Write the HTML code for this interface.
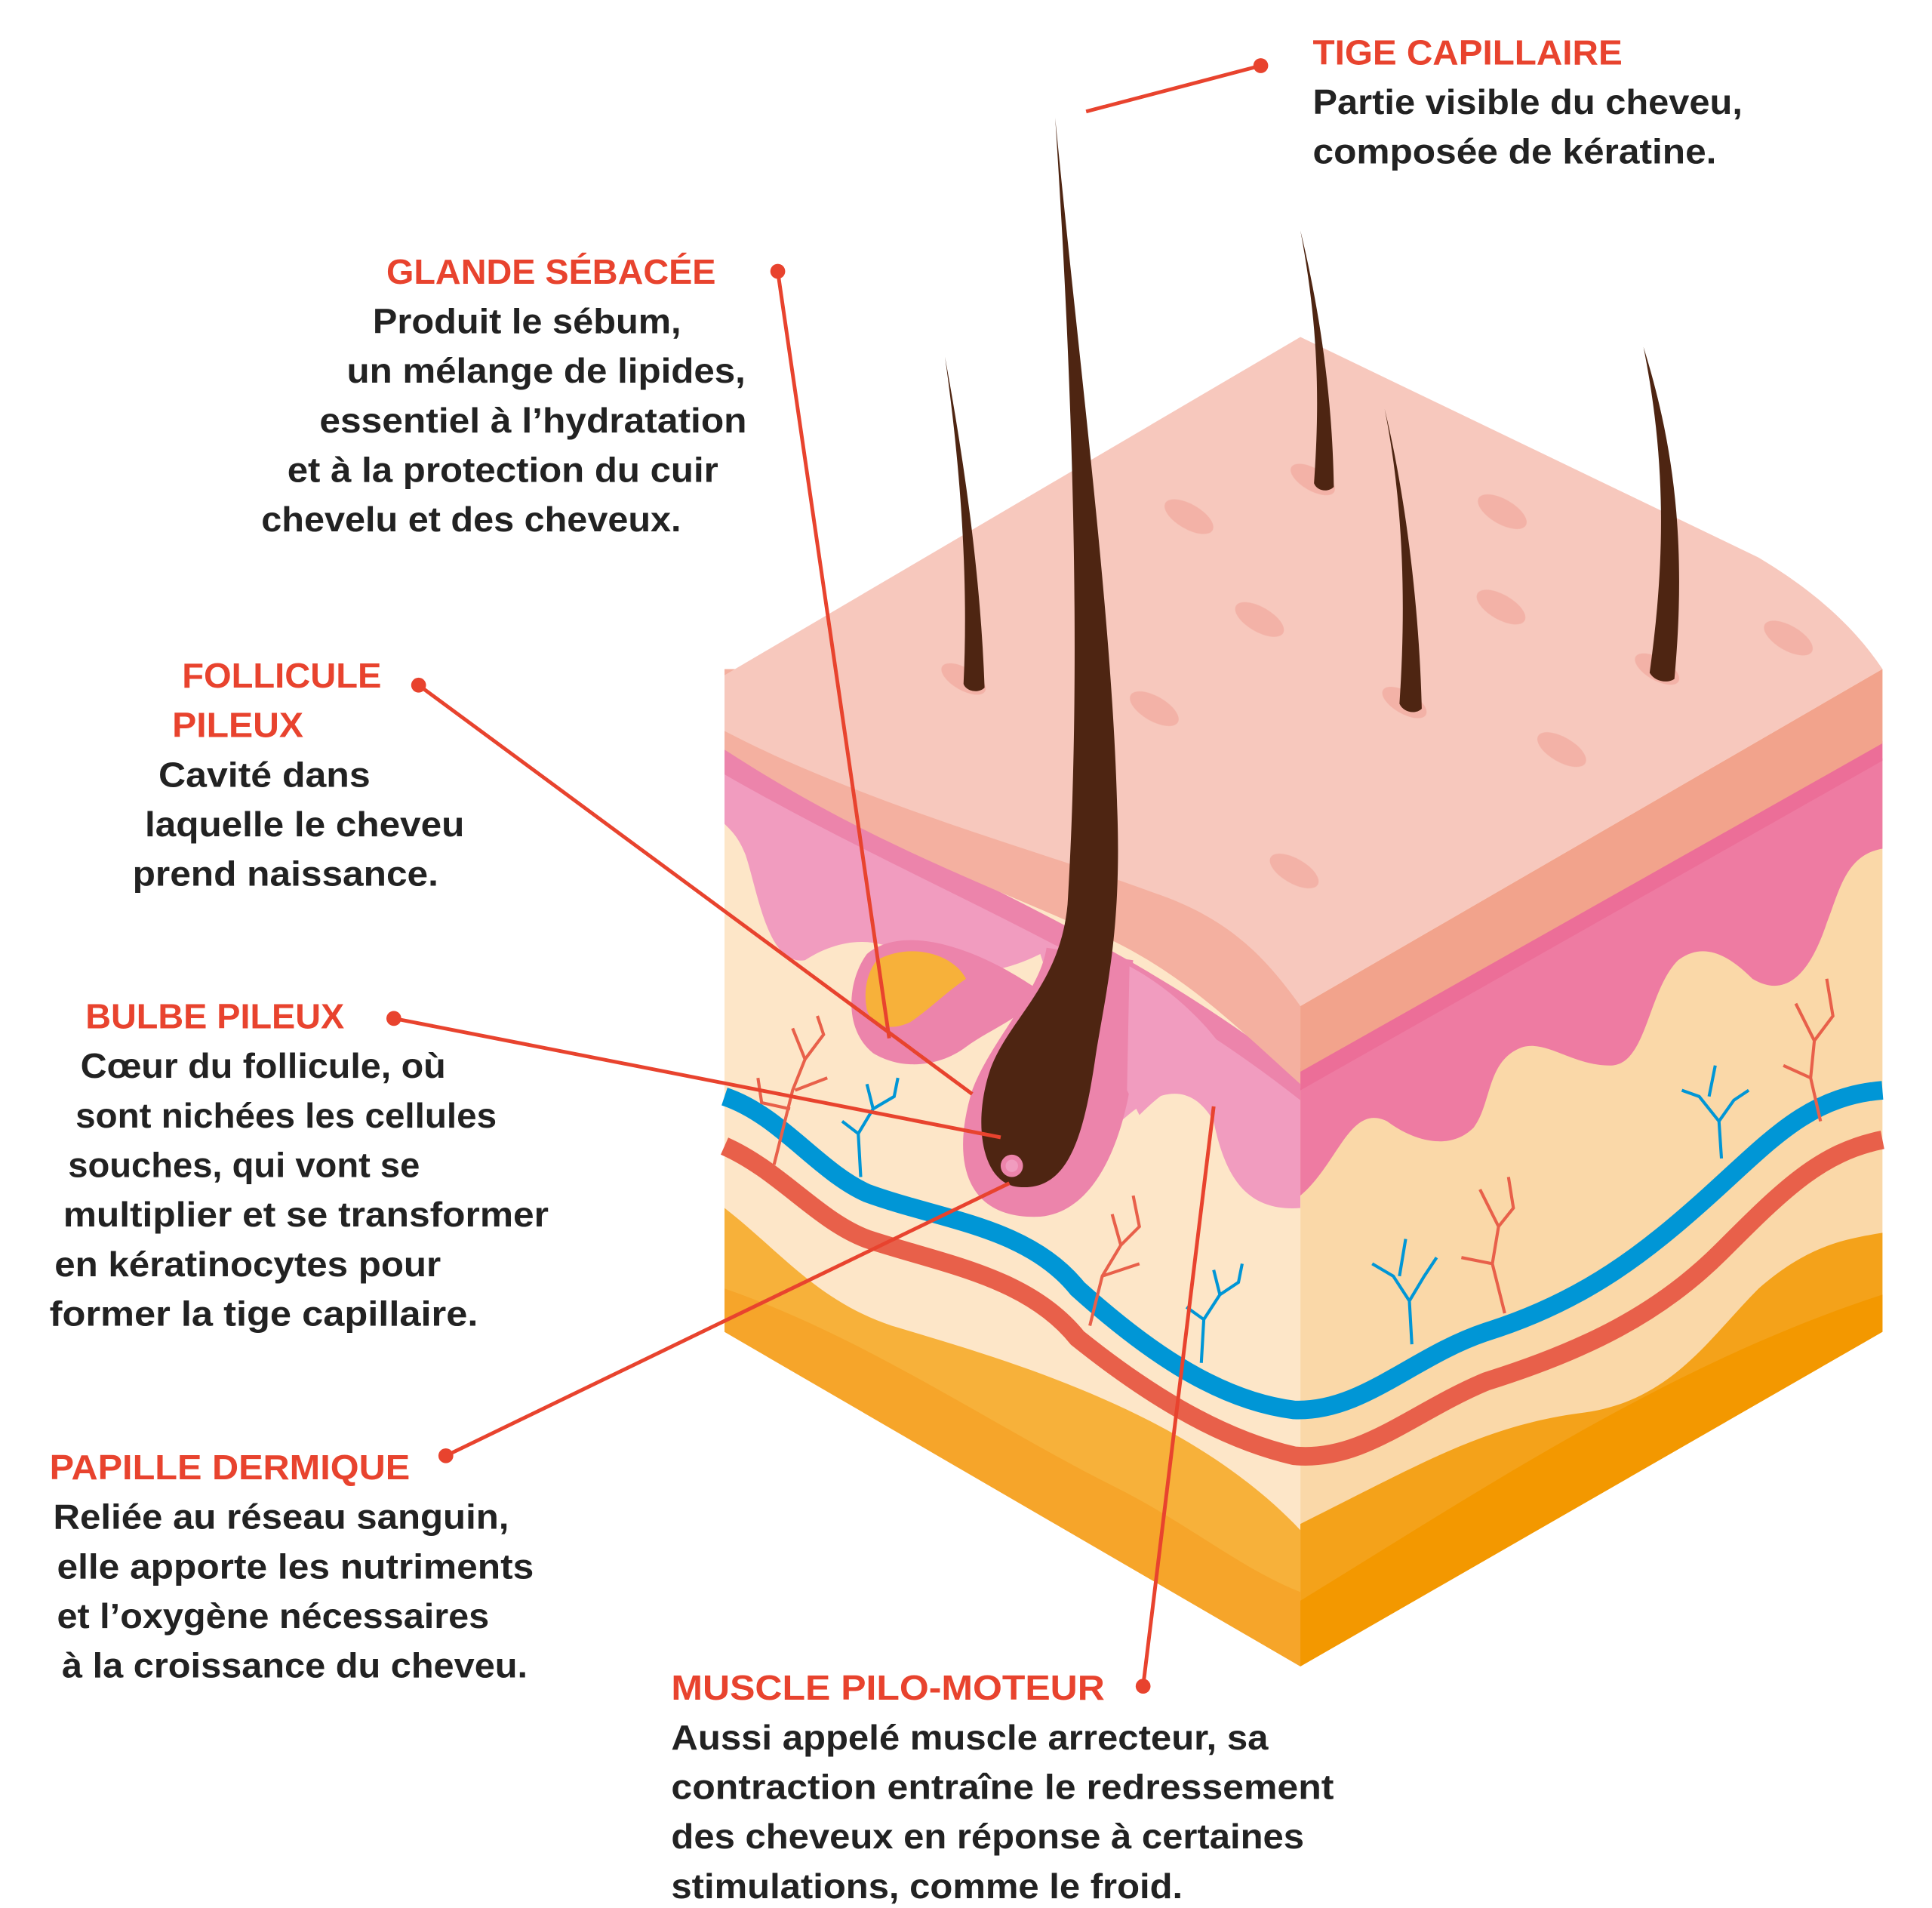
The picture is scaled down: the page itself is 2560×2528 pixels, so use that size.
<!DOCTYPE html>
<html><head><meta charset="utf-8"><style>
html,body{margin:0;padding:0;background:#fff;}
svg{display:block;}
text{font-family:"Liberation Sans",sans-serif;font-weight:bold;font-size:28px;}
.h{fill:#E8432E;}
.b{fill:#222;}
</style></head><body>
<svg width="2560" height="2528" viewBox="0 0 1560 1540" preserveAspectRatio="none" xmlns="http://www.w3.org/2000/svg">
<polygon points="585,545 1050,812 1050,1345 585,1075" fill="#FDE6C8"/>
<path d="M585,975 C630,1010 660,1050 720,1070 C820,1100 960,1140 1050,1235 L1050,1345 L585,1075 Z" fill="#F7B13A"/>
<path d="M585,1040 C700,1080 800,1150 900,1200 C960,1230 1000,1265 1050,1285 L1050,1345 L585,1075 Z" fill="#F6A52A"/>
<path d="M585,615 C750,710 900,760 1050,880 L1050,975 C1010,978 990,955 980,905 C960,870 930,880 900,910 L880,900 C860,850 850,800 840,770 C800,790 760,790 730,770 C700,752 670,762 650,775 C620,780 612,720 602,690 C596,675 590,670 585,665 Z" fill="#F19CBF"/>
<path d="M585,605 C750,700 900,750 1050,868 L1050,888 C900,770 750,720 585,625 Z" fill="#EC84AB"/>
<path d="M585,540 L1050,540 L1050,875 C1000,830 960,790 900,760 C800,715 700,680 585,605 Z" fill="#F4B0A0"/>
<polygon points="1050,812 1520,540 1520,1075 1050,1345" fill="#FAD8A8"/>
<path d="M1050,878 L1520,612 L1520,685 C1490,690 1485,720 1475,745 C1460,790 1440,805 1415,790 C1395,770 1375,760 1355,775 C1330,800 1330,860 1300,860 C1270,860 1250,840 1230,845 C1200,855 1205,890 1190,910 C1170,930 1140,920 1120,905 C1090,890 1080,940 1050,965 Z" fill="#EE7BA2"/>
<polygon points="1050,862 1520,598 1520,614 1050,880" fill="#EC6E98"/>
<polygon points="1050,812 1520,540 1520,600 1050,865" fill="#F2A38C"/>
<path d="M1050,1230 C1150,1180 1200,1150 1280,1140 C1350,1130 1380,1080 1420,1040 C1460,1005 1490,1000 1520,995 L1520,1075 L1050,1345 Z" fill="#F4A21A"/>
<path d="M1050,1292 C1200,1200 1350,1100 1520,1045 L1520,1075 L1050,1345 Z" fill="#F39800"/>
<path d="M585,545 L1050,272 L1420,450 C1470,480 1500,510 1520,540 L1050,812 C1020,770 990,740 930,720 C850,690 700,650 585,590 Z" fill="#F7C8BD"/>
<g fill="#F2ADA2" opacity="0.8">
<ellipse cx="960" cy="417" rx="22" ry="10" transform="rotate(30 960 417)"/>
<ellipse cx="1213" cy="413" rx="22" ry="10" transform="rotate(30 1213 413)"/>
<ellipse cx="1017" cy="500" rx="22" ry="10" transform="rotate(30 1017 500)"/>
<ellipse cx="1212" cy="490" rx="22" ry="10" transform="rotate(30 1212 490)"/>
<ellipse cx="932" cy="572" rx="22" ry="10" transform="rotate(30 932 572)"/>
<ellipse cx="1261" cy="605" rx="22" ry="10" transform="rotate(30 1261 605)"/>
<ellipse cx="1444" cy="515" rx="22" ry="10" transform="rotate(30 1444 515)"/>
<ellipse cx="1045" cy="703" rx="22" ry="10" transform="rotate(30 1045 703)"/>
<ellipse cx="778" cy="548" rx="20" ry="9" transform="rotate(30 778 548)"/>
<ellipse cx="1060" cy="387" rx="20" ry="9" transform="rotate(30 1060 387)"/>
<ellipse cx="1134" cy="567" rx="20" ry="9" transform="rotate(30 1134 567)"/>
<ellipse cx="1338" cy="540" rx="20" ry="9" transform="rotate(30 1338 540)"/>
</g>
<g fill="#4E2512">
<path d="M763,288 C780,380 792,470 795,555 C790,560 780,558 778,552 C782,470 776,380 763,288 Z"/>
<path d="M1050,186 C1068,260 1076,330 1077,393 C1072,398 1063,396 1061,390 C1066,320 1064,260 1050,186 Z"/>
<path d="M1118,330 C1135,400 1146,490 1148,572 C1143,577 1133,575 1130,568 C1136,480 1132,400 1118,330 Z"/>
<path d="M1327,280 C1352,360 1362,440 1352,548 C1346,552 1336,550 1332,543 C1345,450 1345,370 1327,280 Z"/>
</g>
<path d="M585,925 C630,945 660,985 700,1000 C760,1020 830,1030 870,1080 C920,1120 980,1160 1045,1175 C1100,1180 1140,1140 1200,1115 C1280,1090 1340,1060 1390,1010 C1440,960 1470,930 1520,920" fill="none" stroke="#E8604A" stroke-width="15"/>
<path d="M585,885 C630,900 660,945 700,963 C760,985 830,990 870,1040 C920,1085 980,1130 1045,1138 C1100,1140 1140,1095 1200,1075 C1280,1050 1330,1010 1380,965 C1430,920 1460,885 1520,880" fill="none" stroke="#0096D6" stroke-width="15"/>
<g fill="none" stroke="#E8604A" stroke-width="2.5">
<path d="M625,940 L640,880 L650,855 L640,830 M650,855 L665,835 L660,820 M642,880 L668,870 M638,895 L615,890 L612,870"/>
<path d="M880,1070 L890,1030 L905,1005 L898,980 M905,1005 L920,990 L915,965 M890,1030 L920,1020"/>
<path d="M1215,1060 L1205,1020 L1210,990 L1195,960 M1210,990 L1222,975 L1218,950 M1205,1020 L1180,1015"/>
<path d="M1470,905 L1462,870 L1465,840 L1450,810 M1465,840 L1480,820 L1475,790 M1462,870 L1440,860"/>
</g>
<g fill="none" stroke="#0096D6" stroke-width="2.5">
<path d="M695,950 L693,915 L705,895 L700,875 M705,895 L722,885 L725,870 M693,915 L680,905"/>
<path d="M970,1100 L972,1065 L985,1045 L980,1025 M985,1045 L1000,1035 L1003,1020 M972,1065 L958,1055"/>
<path d="M1140,1085 L1138,1050 L1125,1030 L1108,1020 M1138,1050 L1150,1030 L1160,1015 M1130,1030 L1135,1000"/>
<path d="M1390,935 L1388,905 L1372,885 L1358,880 M1388,905 L1400,888 L1412,880 M1380,885 L1385,860"/>
</g>
<path d="M700,770 C730,745 790,765 840,800 C830,820 800,830 780,845 C760,860 730,865 705,850 C680,830 685,790 700,770 Z" fill="#EC84AB"/>
<path d="M708,775 C735,760 770,770 780,790 C765,800 750,815 735,825 C720,832 705,830 700,815 C697,800 700,785 708,775 Z" fill="#F7B13A"/>
<path d="M845,765 C840,800 800,840 785,880 C768,935 778,985 840,982 C885,978 905,920 912,880 C918,840 912,800 915,775 Z" fill="#EC84AB"/>
<path d="M912,780 C950,800 990,840 1000,870 C970,860 945,875 920,900 L910,880 Z" fill="#F19CBF"/>
<path d="M852,95 C872,300 898,500 902,650 C906,750 893,800 885,850 C875,920 862,962 822,958 C792,955 785,905 800,862 C815,822 856,795 862,730 C870,600 872,400 852,95 Z" fill="#4E2512"/>
<circle cx="817" cy="941" r="9" fill="#EC84AB"/>
<circle cx="817" cy="941" r="5" fill="#F19CBF"/>
<g stroke="#E8432E" stroke-width="3" fill="none">
<line x1="1018" y1="53" x2="877" y2="90"/>
<line x1="628" y1="219" x2="718" y2="838"/>
<line x1="338" y1="553" x2="785" y2="883"/>
<line x1="318" y1="822" x2="808" y2="918"/>
<line x1="360" y1="1175" x2="815" y2="955"/>
<line x1="923" y1="1361" x2="980" y2="893"/>
</g>
<g fill="#E8432E">
<circle cx="1018" cy="53" r="6"/><circle cx="628" cy="219" r="6"/><circle cx="338" cy="553" r="6"/>
<circle cx="318" cy="822" r="6"/><circle cx="360" cy="1175" r="6"/><circle cx="923" cy="1361" r="6"/>
</g>
<text class="h" x="1060" y="52" textLength="250" lengthAdjust="spacingAndGlyphs">TIGE CAPILLAIRE</text>
<text class="b" x="1060" y="92" textLength="347" lengthAdjust="spacingAndGlyphs">Partie visible du cheveu,</text>
<text class="b" x="1060" y="132" textLength="326" lengthAdjust="spacingAndGlyphs">composée de kératine.</text>
<text class="h" x="312" y="229" textLength="266" lengthAdjust="spacingAndGlyphs">GLANDE SÉBACÉE</text>
<text class="b" x="301" y="269" textLength="249" lengthAdjust="spacingAndGlyphs">Produit le sébum,</text>
<text class="b" x="280" y="309" textLength="322" lengthAdjust="spacingAndGlyphs">un mélange de lipides,</text>
<text class="b" x="258" y="349" textLength="345" lengthAdjust="spacingAndGlyphs">essentiel à l’hydratation</text>
<text class="b" x="232" y="389" textLength="348" lengthAdjust="spacingAndGlyphs">et à la protection du cuir</text>
<text class="b" x="211" y="429" textLength="339" lengthAdjust="spacingAndGlyphs">chevelu et des cheveux.</text>
<text class="h" x="147" y="555" textLength="161" lengthAdjust="spacingAndGlyphs">FOLLICULE</text>
<text class="h" x="139" y="595" textLength="106" lengthAdjust="spacingAndGlyphs">PILEUX</text>
<text class="b" x="128" y="635" textLength="171" lengthAdjust="spacingAndGlyphs">Cavité dans</text>
<text class="b" x="117" y="675" textLength="258" lengthAdjust="spacingAndGlyphs">laquelle le cheveu</text>
<text class="b" x="107" y="715" textLength="247" lengthAdjust="spacingAndGlyphs">prend naissance.</text>
<text class="h" x="69" y="830" textLength="209" lengthAdjust="spacingAndGlyphs">BULBE PILEUX</text>
<text class="b" x="65" y="870" textLength="295" lengthAdjust="spacingAndGlyphs">Cœur du follicule, où</text>
<text class="b" x="61" y="910" textLength="340" lengthAdjust="spacingAndGlyphs">sont nichées les cellules</text>
<text class="b" x="55" y="950" textLength="284" lengthAdjust="spacingAndGlyphs">souches, qui vont se</text>
<text class="b" x="51" y="990" textLength="392" lengthAdjust="spacingAndGlyphs">multiplier et se transformer</text>
<text class="b" x="44" y="1030" textLength="312" lengthAdjust="spacingAndGlyphs">en kératinocytes pour</text>
<text class="b" x="40" y="1070" textLength="346" lengthAdjust="spacingAndGlyphs">former la tige capillaire.</text>
<text class="h" x="40" y="1194" textLength="291" lengthAdjust="spacingAndGlyphs">PAPILLE DERMIQUE</text>
<text class="b" x="43" y="1234" textLength="368" lengthAdjust="spacingAndGlyphs">Reliée au réseau sanguin,</text>
<text class="b" x="46" y="1274" textLength="385" lengthAdjust="spacingAndGlyphs">elle apporte les nutriments</text>
<text class="b" x="46" y="1314" textLength="349" lengthAdjust="spacingAndGlyphs">et l’oxygène nécessaires</text>
<text class="b" x="50" y="1354" textLength="376" lengthAdjust="spacingAndGlyphs">à la croissance du cheveu.</text>
<text class="h" x="542" y="1372" textLength="350" lengthAdjust="spacingAndGlyphs">MUSCLE PILO-MOTEUR</text>
<text class="b" x="542" y="1412" textLength="482" lengthAdjust="spacingAndGlyphs">Aussi appelé muscle arrecteur, sa</text>
<text class="b" x="542" y="1452" textLength="535" lengthAdjust="spacingAndGlyphs">contraction entraîne le redressement</text>
<text class="b" x="542" y="1492" textLength="511" lengthAdjust="spacingAndGlyphs">des cheveux en réponse à certaines</text>
<text class="b" x="542" y="1532" textLength="413" lengthAdjust="spacingAndGlyphs">stimulations, comme le froid.</text>
</svg>
</body></html>
